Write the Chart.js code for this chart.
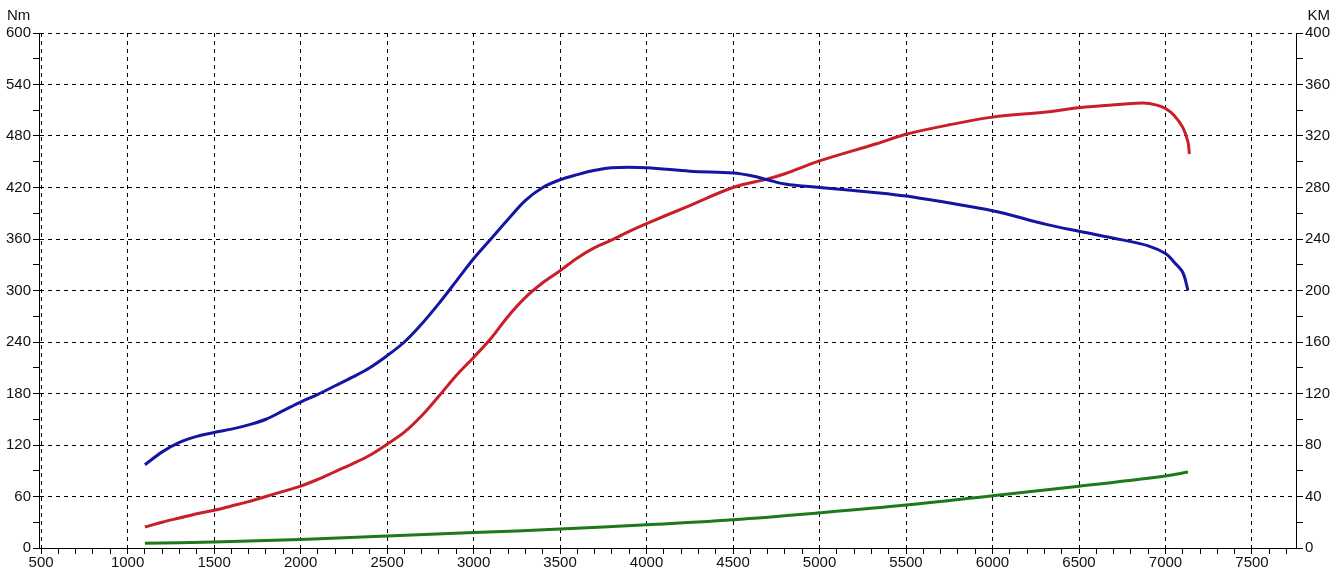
<!DOCTYPE html>
<html>
<head>
<meta charset="utf-8">
<script src="https://cdn.jsdelivr.net/npm/chart.js@4.4.0/dist/chart.umd.min.js"></script>
<style>
  html, body { margin: 0; padding: 0; background: #fff; }
  #wrap { width: 1339px; height: 571px; }
</style>
</head>
<body>
<div id="wrap"><canvas id="dynoChart" width="1339" height="571"></canvas></div>
<script>
// rpm points for the torque (blue) curve
const rpmTorque = [1100, 1200, 1300, 1400, 1500, 1600, 1700, 1800, 1900, 2000, 2100, 2200, 2300, 2400, 2500, 2600, 2700, 2800, 2900, 3000, 3100, 3200, 3300, 3400, 3500, 3600, 3700, 3800, 4000, 4250, 4500, 4600, 4700, 4800, 5000, 5330, 5500, 6000, 6310, 6500, 6750, 6900, 7000, 7050, 7100, 7130];
const torqueNm = [97, 112, 123, 130, 134.5, 138.5, 143.5, 150, 160, 170, 179, 189, 199, 210, 224, 240, 261, 285, 311, 337, 360, 383, 405, 420, 429, 435, 440, 443, 443, 439, 437, 434, 429, 424, 420, 414, 410, 393, 377, 369, 359, 352, 343, 333, 321, 300];

// rpm points for the power (red) curve, values in Nm-scale units
const rpmPower = [1100, 1200, 1300, 1400, 1500, 1600, 1700, 1800, 1900, 2000, 2100, 2200, 2300, 2400, 2500, 2600, 2700, 2800, 2900, 3000, 3100, 3200, 3300, 3400, 3500, 3600, 3700, 3800, 3900, 4000, 4250, 4500, 4700, 4800, 5000, 5330, 5500, 5750, 6000, 6310, 6500, 6750, 6870, 6950, 7000, 7050, 7100, 7130, 7138];
const powerVals = [24.5, 30, 35, 40, 44, 49, 54, 60, 66, 72, 80, 89, 98, 108, 121, 135, 154, 177, 201, 222, 244, 270, 292, 309, 323, 338, 350, 359, 369, 378, 399, 420, 430, 436, 451, 471, 482, 493, 502, 508, 513, 517, 518.5, 516, 512, 504, 490, 473, 459];

// third (green) curve
const rpmGreen = [1100, 1500, 2000, 2500, 3000, 3500, 4000, 4500, 5000, 5500, 6000, 6500, 7000, 7130];
const greenVals = [5.4, 7, 10, 14, 18, 22, 27, 33, 41, 50, 61, 72, 84, 88.5];

const toPts = (xs, ys) => xs.map((x, i) => ({ x: x, y: ys[i] }));

const axisFont = { family: "'Liberation Sans', Arial, sans-serif", size: 15 };

const unitLabels = {
  id: "unitLabels",
  afterDraw(chart) {
    const c = chart.ctx;
    const a = chart.chartArea;
    c.save();
    c.fillStyle = "#111";
    c.font = "15px 'Liberation Sans', Arial, sans-serif";
    c.textBaseline = "bottom";
    c.textAlign = "left";
    c.fillText("Nm", 7, a.top - 10);
    c.textAlign = "right";
    c.fillText("KM", 1330, a.top - 10);
    c.restore();
  }
};

new Chart(document.getElementById("dynoChart"), {
  type: "line",
  data: {
    datasets: [
      {
        label: "Nm",
        data: toPts(rpmTorque, torqueNm),
        borderColor: "#1515a3",
        borderWidth: 3,
        pointRadius: 0,
        tension: 0.35,
        yAxisID: "y"
      },
      {
        label: "KM",
        data: toPts(rpmPower, powerVals),
        borderColor: "#c81f28",
        borderWidth: 3,
        pointRadius: 0,
        tension: 0.35,
        yAxisID: "y"
      },
      {
        label: "extra",
        data: toPts(rpmGreen, greenVals),
        borderColor: "#1c7a1c",
        borderWidth: 3,
        pointRadius: 0,
        tension: 0.35,
        yAxisID: "y"
      }
    ]
  },
  options: {
    responsive: false,
    animation: false,
    layout: { padding: { top: 33, right: 7, left: 4, bottom: 0 } },
    plugins: {
      legend: { display: false },
      tooltip: { enabled: false }
    },
    scales: {
      x: {
        type: "linear",
        min: 488,
        max: 7760,
        afterBuildTicks(scale) {
          const t = [];
          for (let v = 500; v <= 7700; v += 100) t.push({ value: v });
          scale.ticks = t;
        },
        ticks: {
          autoSkip: false,
          maxRotation: 0,
          color: "#111",
          font: axisFont,
          padding: -0.5,
          callback: (v) => (v % 500 === 0 ? String(v) : "")
        },
        grid: {
          color: (ctx) => (ctx.tick && ctx.tick.value % 500 === 0 ? "#000" : "rgba(0,0,0,0)"),
          tickColor: "#000",
          tickLength: 6,
          lineWidth: 1
        },
        border: { display: true, color: "#000", width: 1, dash: [4, 4] }
      },
      y: {
        position: "left",
        min: 0,
        max: 600,
        afterBuildTicks(scale) {
          const t = [];
          for (let v = 0; v <= 600; v += 30) t.push({ value: v });
          scale.ticks = t;
        },
        ticks: {
          color: "#111",
          font: axisFont,
          padding: 2,
          callback: (v) => (v % 60 === 0 ? String(v) : "")
        },
        grid: {
          color: (ctx) => (ctx.tick && ctx.tick.value % 60 === 0 ? "#000" : "rgba(0,0,0,0)"),
          tickColor: "#000",
          tickLength: 6,
          lineWidth: 1
        },
        border: { display: true, color: "#000", width: 1, dash: [4, 4] }
      },
      y1: {
        position: "right",
        min: 0,
        max: 400,
        afterBuildTicks(scale) {
          const t = [];
          for (let v = 0; v <= 400; v += 20) t.push({ value: v });
          scale.ticks = t;
        },
        ticks: {
          color: "#111",
          font: axisFont,
          padding: 2,
          callback: (v) => (v % 40 === 0 ? String(v) : "")
        },
        grid: {
          drawOnChartArea: false,
          tickColor: "#000",
          tickLength: 6
        },
        border: { display: true, color: "#000", width: 1 }
      }
    }
  },
  plugins: [unitLabels]
});
</script>
</body>
</html>
